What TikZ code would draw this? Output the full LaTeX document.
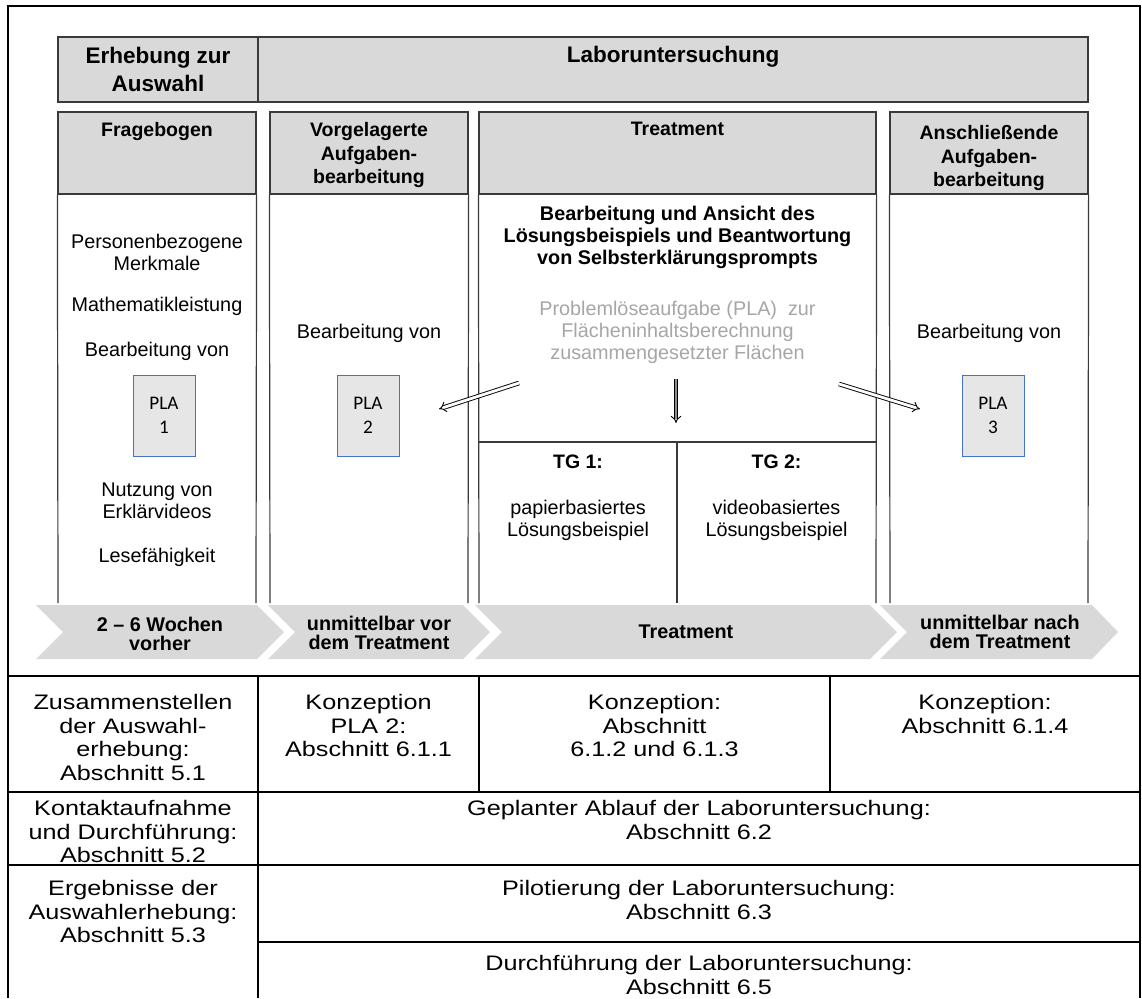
\documentclass[tikz,border=0pt]{standalone}
\usepackage{fontspec}
\setmainfont{Liberation Sans}
\newfontfamily\plafont{Carlito}
\newfontfamily\tabfont[FakeStretch=1.2]{Liberation Sans}
\usetikzlibrary{arrows.meta}

\definecolor{hdgray}{HTML}{D9D9D9}
\definecolor{plagray}{HTML}{E7E6E6}
\definecolor{plablue}{HTML}{4472C4}
\definecolor{txtgray}{HTML}{A6A6A6}
\definecolor{lngray}{HTML}{3A3A3A}

\tikzset{
  hdbox/.style={draw=lngray,fill=hdgray,line width=0.6pt,inner sep=0pt},
  plabox/.style={draw=plablue,fill=plagray,line width=0.5pt,minimum width=31pt,minimum height=40.5pt,
    align=center,inner sep=0pt,font=\plafont\fontsize{9.6}{12}\selectfont},
  body/.style={align=center,anchor=north,inner sep=0pt,font=\fontsize{9.9}{11}\selectfont},
  bhead/.style={align=center,anchor=north,inner sep=0pt,font=\bfseries\fontsize{9.75}{11.75}\selectfont},
  chev/.style={fill=hdgray},
  chevtxt/.style={align=center,inner sep=0pt,font=\bfseries\fontsize{9.9}{9.75}\selectfont},
  tabtxt/.style={align=center,anchor=north,inner sep=0pt,font=\tabfont\fontsize{10.5}{11.75}\selectfont},
  darrow/.style={double,double distance=1.4pt,line width=0.45pt,-{Implies}},
}

\begin{document}
\begin{tikzpicture}[x=0.5pt,y=-0.5pt]
	\useasboundingbox (0,0) rectangle (1142,998);
	\draw[line width=1pt] (8,6) rectangle (1140,676);

	% Header
	\node (hsel) [hdbox,minimum width=100pt,minimum height=32.5pt,align=center,
		font=\bfseries\fontsize{11.25}{14}\selectfont] at (158,69.5) {Erhebung zur\\Auswahl};
	\node (hlab) [hdbox,minimum width=415pt,minimum height=32.5pt] at (673,69.5) {};
	\node (hlabt) [inner sep=0pt,font=\bfseries\fontsize{11.25}{14}\selectfont] at (673,57) {Laboruntersuchung};

	% Columns
	\node (fbox) [hdbox,minimum width=99pt,minimum height=41pt] at (157,153) {};
	\node (vbox) [hdbox,minimum width=99pt,minimum height=41pt] at (369,153) {};
	\node (tbox) [hdbox,minimum width=198.5pt,minimum height=41pt] at (677.5,153) {};
	\node (abox) [hdbox,minimum width=99pt,minimum height=41pt] at (989,153) {};
	\begin{scope}[draw=lngray,line width=0.6pt]
	\draw (fbox.south west) -- (58,603);
	\draw (fbox.south east) -- (256,603);
	\draw (vbox.south west) -- (270,603);
	\draw (vbox.south east) -- (468,603);
	\draw (tbox.south west) -- (479,603);
	\draw (tbox.south east) -- (876,603);
	\draw (abox.south west) -- (890,603);
	\draw (abox.south east) -- (1088,603);
	\draw (479,442) -- (876,442);
	\draw (677,442) -- (677,603);
	\end{scope}

	\node (fhd) [bhead] at (157,122) {Fragebogen};
	\node (vhd) [bhead] at (369,122) {Vorgelagerte\\Aufgaben-\\bearbeitung};
	\node (thd) [bhead] at (677.5,122) {Treatment};
	\node (ahd) [bhead] at (989,125) {Anschließende\\Aufgaben-\\bearbeitung};

	% Fragebogen
	\node (f1) [body] at (157,234) {Personenbezogene\\Merkmale};
	\node (f2) [body] at (157,297) {Mathematikleistung};
	\node (f3) [body] at (157,342) {Bearbeitung von};
	\node (pla1) [plabox] at (164,415.5) {PLA\\1};
	\node (f4) [body] at (157,482) {Nutzung von\\Erklärvideos};
	\node (f5) [body] at (157,548) {Lesefähigkeit};

	% Aufgabenbearbeitung vorher / nachher
	\node (v1) [body] at (369,324) {Bearbeitung von};
	\node (pla2) [plabox] at (368,415.5) {PLA\\2};
	\node (a1) [body] at (989,324) {Bearbeitung von};
	\node (pla3) [plabox] at (993,415.5) {PLA\\3};

	% Treatment
	\node (t1) [bhead,font=\bfseries\fontsize{9.9}{11}\selectfont] at (677.5,206)
		{Bearbeitung und Ansicht des\\Lösungsbeispiels und Beantwortung\\von Selbsterklärungsprompts};
	\node (t2) [body,text=txtgray] at (677.5,301)
		{Problemlöseaufgabe (PLA)\ \ zur\\Flächeninhaltsberechnung\\zusammengesetzter Flächen};
	\node (tg1) [bhead] at (578,454) {TG 1:};
	\node (tg1t) [body] at (578,500) {papierbasiertes\\Lösungsbeispiel};
	\node (tg2) [bhead] at (776.5,454) {TG 2:};
	\node (tg2t) [body] at (776.5,500) {videobasiertes\\Lösungsbeispiel};

	\coordinate (al0) at (519,383);
	\coordinate (al1) at (439,409);
	\coordinate (am0) at (676,379);
	\coordinate (am1) at (676,423);
	\coordinate (ar0) at (839,384);
	\coordinate (ar1) at (920,409);
	\draw[darrow] (al0) -- (al1);
	\draw[darrow,double=black!45] (am0) -- (am1);
	\draw[darrow] (ar0) -- (ar1);

	% Zeitleiste
	\fill[chev] (36,605) -- (257,605) -- (284,632) -- (257,659) -- (36,659) -- (63,632) -- cycle;
	\fill[chev] (268,605) -- (463,605) -- (490,632) -- (463,659) -- (268,659) -- (295,632) -- cycle;
	\fill[chev] (475,605) -- (870,605) -- (897,632) -- (870,659) -- (475,659) -- (502,632) -- cycle;
	\fill[chev] (880,605) -- (1092,605) -- (1118,632) -- (1092,659) -- (880,659) -- (907,632) -- cycle;
	\node (c1) [chevtxt] at (160,634) {2 -- 6 Wochen\\vorher};
	\node (c2) [chevtxt] at (379,633) {unmittelbar vor\\dem Treatment};
	\node (c3) [chevtxt] at (686,632) {Treatment};
	\node (c4) [chevtxt] at (1000,632) {unmittelbar nach\\dem Treatment};

	% Tabelle
	\begin{scope}[line width=0.8pt]
	\draw (8,676) -- (8,998);
	\draw (258,676) -- (258,998);
	\draw (1140,676) -- (1140,998);
	\draw (479,676) -- (479,792);
	\draw (830,676) -- (830,792);
	\draw (8,792) -- (1140,792);
	\draw (8,865) -- (1140,865);
	\draw (258,942) -- (1140,942);
	\end{scope}
	\node (r1a) [tabtxt] at (133,694) {Zusammenstellen\\der Auswahl-\\erhebung:\\Abschnitt 5.1};
	\node (r1b) [tabtxt] at (368.5,694) {Konzeption\\PLA 2:\\Abschnitt 6.1.1};
	\node (r1c) [tabtxt] at (654.5,694) {Konzeption:\\Abschnitt\\6.1.2 und 6.1.3};
	\node (r1d) [tabtxt] at (985,694) {Konzeption:\\Abschnitt 6.1.4};
	\node (r2a) [tabtxt] at (133,800) {Kontaktaufnahme\\und Durchführung:\\Abschnitt 5.2};
	\node (r2b) [tabtxt] at (699,800) {Geplanter Ablauf der Laboruntersuchung:\\Abschnitt 6.2};
	\node (r3a) [tabtxt] at (133,880) {Ergebnisse der\\Auswahlerhebung:\\Abschnitt 5.3};
	\node (r3b) [tabtxt] at (699,880) {Pilotierung der Laboruntersuchung:\\Abschnitt 6.3};
	\node (r3c) [tabtxt] at (699,955) {Durchführung der Laboruntersuchung:\\Abschnitt 6.5};
\end{tikzpicture}
\end{document}
